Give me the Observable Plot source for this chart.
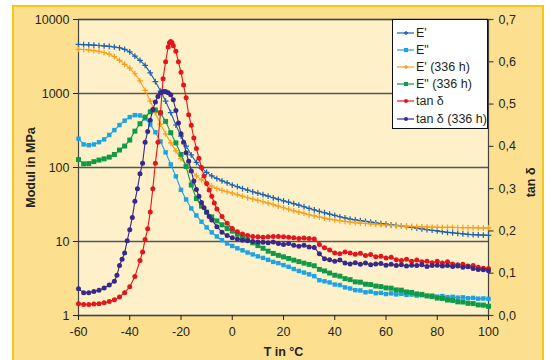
<!DOCTYPE html>
<html><head><meta charset="utf-8">
<script src="https://cdn.jsdelivr.net/npm/d3@7"></script>
<script src="https://cdn.jsdelivr.net/npm/@observablehq/plot@0.6"></script>
<style>
html,body{margin:0;padding:0;width:550px;height:360px;overflow:hidden;background:#fff;}
#panel{position:absolute;left:12px;top:5px;width:528px;height:400px;border:2px solid #F9C80E;background:#FDE08F;}
#chart{position:absolute;left:0;top:0;}
#chart g[aria-label$="axis label"] text, #chart g[aria-label$="axis label"]{font-weight:700;font-size:12.5px;}
#legend{position:absolute;left:392px;top:19px;width:96px;height:110px;background:#fff;border:1px solid #111;
  font:12.5px "Liberation Sans",Arial,sans-serif;color:#231f20;box-sizing:border-box;padding-top:4px;}
.row{height:17.2px;display:flex;align-items:center;white-space:nowrap;}
.row svg{margin-left:4px;margin-right:2px;flex:none;}
</style></head>
<body>
<div id="panel"></div>
<div id="chart"></div>
<div id="legend"></div>
<script>
// Series: [temperature °C, value]
const ePrime = [[-60,4600],[-58,4580],[-56,4550],[-54,4500],[-52,4450],[-50,4400],[-48,4330],[-46,4250],[-44,4150],[-42,3950],[-40,3650],[-38,3200],[-36,2800],[-34,2400],[-32,1900],[-30,1450],[-28,1080],[-26,790],[-24,550],[-22,375],[-20,265],[-18,195],[-16,148],[-14,117],[-12,98],[-10,86],[-8,77],[-6,71],[-4,66],[-2,62],[0,58],[2,55],[4,52],[6,49.5],[8,47],[10,45],[12,43],[14,41],[16,39],[18,37.2],[20,35.5],[22,34],[24,32.5],[26,31],[28,29.5],[30,28],[32,26.8],[34,25.5],[36,24.5],[38,23.5],[40,22.5],[42,21.6],[44,20.8],[46,20.1],[48,19.6],[50,19.2],[52,18.7],[54,18.3],[56,17.9],[58,17.5],[60,17.2],[62,16.8],[64,16.5],[66,16.2],[68,15.9],[70,15.5],[72,15.2],[74,14.8],[76,14.5],[78,14.2],[80,13.9],[82,13.6],[84,13.3],[86,13.1],[88,12.9],[90,12.7],[92,12.5],[94,12.4],[96,12.3],[98,12.2],[100,12.1]];
const eDouble = [[-60,245],[-58,205],[-56,200],[-54,205],[-52,220],[-50,240],[-48,275],[-46,320],[-44,375],[-42,430],[-40,480],[-38,510],[-36,505],[-34,460],[-32,380],[-30,300],[-28,225],[-26,160],[-24,110],[-22,76],[-20,50],[-18,37],[-16,28],[-14,22.5],[-12,18.5],[-10,15.5],[-8,13.3],[-6,11.7],[-4,10.4],[-2,9.4],[0,8.7],[2,8.1],[4,7.6],[6,7.1],[8,6.7],[10,6.3],[12,6],[14,5.65],[16,5.3],[18,5.1],[20,4.8],[22,4.55],[24,4.25],[26,4],[28,3.8],[30,3.6],[32,3.4],[34,3.0],[36,2.9],[38,2.8],[40,2.62],[42,2.58],[44,2.4],[46,2.32],[48,2.2],[50,2.18],[52,2.06],[54,2.1],[56,2.0],[58,2.02],[60,1.95],[62,1.99],[64,1.93],[66,1.96],[68,1.9],[70,1.92],[72,1.86],[74,1.88],[76,1.84],[78,1.86],[80,1.8],[82,1.83],[84,1.77],[86,1.79],[88,1.74],[90,1.76],[92,1.71],[94,1.73],[96,1.69],[98,1.7],[100,1.68]];
const ePrime336 = [[-60,3950],[-58,3930],[-56,3880],[-54,3800],[-52,3700],[-50,3580],[-48,3400],[-46,3150],[-44,2800],[-42,2480],[-40,2200],[-38,1850],[-36,1480],[-34,1100],[-32,790],[-30,550],[-28,385],[-26,285],[-24,215],[-22,168],[-20,132],[-18,108],[-16,90],[-14,77],[-12,68],[-10,61],[-8,56],[-6,52],[-4,49],[-2,47],[0,45],[2,43],[4,41],[6,39],[8,37.5],[10,36],[12,34.5],[14,33],[16,31.5],[18,30],[20,28.6],[22,27.3],[24,26],[26,25],[28,24],[30,23],[32,22.2],[34,21.4],[36,20.7],[38,20.1],[40,19.6],[42,19.1],[44,18.7],[46,18.3],[48,18],[50,17.7],[52,17.5],[54,17.3],[56,17.1],[58,16.9],[60,16.7],[62,16.5],[64,16.4],[66,16.3],[68,16.1],[70,16],[72,15.9],[74,15.8],[76,15.75],[78,15.7],[80,15.6],[82,15.55],[84,15.5],[86,15.5],[88,15.45],[90,15.4],[92,15.4],[94,15.35],[96,15.3],[98,15.3],[100,15.3]];
const eDouble336 = [[-60,128],[-58,112],[-56,113],[-54,120],[-52,126],[-50,131],[-48,138],[-46,150],[-44,172],[-42,195],[-40,235],[-38,310],[-36,390],[-34,480],[-32,565],[-30,600],[-28,545],[-26,420],[-24,295],[-22,215],[-20,150],[-18,103],[-16,58],[-14,38],[-12,30],[-10,25],[-8,21.5],[-6,19],[-4,16.8],[-2,15],[0,13.8],[2,12.6],[4,11.5],[6,10.5],[8,9.6],[10,8.8],[12,8.1],[14,7.4],[16,6.9],[18,6.5],[20,6.2],[22,5.9],[24,5.6],[26,5.35],[28,5.1],[30,4.9],[32,4.7],[34,4.2],[36,4.0],[38,3.75],[40,3.5],[42,3.4],[44,3.15],[46,3.05],[48,2.85],[50,2.82],[52,2.65],[54,2.62],[56,2.5],[58,2.46],[60,2.36],[62,2.34],[64,2.22],[66,2.2],[68,2.08],[70,2.05],[72,1.96],[74,1.93],[76,1.84],[78,1.8],[80,1.72],[82,1.7],[84,1.62],[86,1.6],[88,1.53],[90,1.52],[92,1.46],[94,1.45],[96,1.39],[98,1.38],[100,1.33]];
const tanDelta = [[-60,0.028],[-58,0.026],[-56,0.026],[-54,0.027],[-52,0.028],[-50,0.030],[-48,0.033],[-46,0.037],[-44,0.044],[-42,0.054],[-40,0.068],[-38,0.092],[-36,0.13],[-35,0.15],[-34,0.18],[-33,0.205],[-32,0.245],[-31,0.30],[-30,0.36],[-29,0.41],[-28,0.48],[-27,0.56],[-26,0.60],[-25,0.635],[-24.5,0.645],[-24,0.648],[-23.5,0.645],[-23,0.638],[-22,0.625],[-21,0.60],[-20,0.575],[-19,0.545],[-18,0.515],[-17,0.475],[-16,0.45],[-15,0.42],[-14,0.395],[-13,0.372],[-12,0.35],[-11,0.33],[-10,0.312],[-9,0.297],[-8,0.282],[-7,0.266],[-6,0.252],[-4,0.234],[-2,0.218],[0,0.206],[2,0.198],[4,0.193],[6,0.189],[8,0.187],[10,0.186],[12,0.185],[14,0.186],[16,0.187],[18,0.187],[20,0.186],[22,0.185],[24,0.184],[26,0.182],[28,0.183],[30,0.182],[32,0.181],[34,0.168],[36,0.16],[38,0.155],[40,0.148],[42,0.146],[44,0.150],[46,0.148],[48,0.145],[50,0.147],[52,0.142],[54,0.144],[56,0.139],[58,0.140],[60,0.136],[62,0.138],[64,0.132],[66,0.130],[68,0.133],[70,0.128],[72,0.131],[74,0.127],[76,0.128],[78,0.125],[80,0.128],[82,0.124],[84,0.127],[86,0.122],[88,0.120],[90,0.121],[92,0.117],[94,0.118],[96,0.114],[98,0.112],[100,0.111]];
const tanDelta336 = [[-60,0.063],[-58,0.054],[-56,0.054],[-54,0.057],[-52,0.060],[-50,0.065],[-48,0.072],[-46,0.081],[-45,0.095],[-44,0.118],[-43,0.133],[-42,0.148],[-41,0.177],[-40,0.203],[-39,0.232],[-38,0.27],[-37,0.30],[-36,0.335],[-35,0.36],[-34,0.41],[-33,0.435],[-32,0.462],[-31,0.487],[-30,0.505],[-29,0.518],[-28,0.526],[-27,0.53],[-26,0.53],[-25,0.527],[-24,0.522],[-23,0.51],[-22,0.485],[-21,0.455],[-20,0.43],[-19,0.41],[-18,0.385],[-17,0.365],[-16,0.342],[-15,0.318],[-14,0.298],[-13,0.282],[-12,0.267],[-11,0.255],[-10,0.244],[-9,0.234],[-8,0.226],[-6,0.21],[-4,0.197],[-2,0.189],[0,0.184],[2,0.181],[4,0.178],[6,0.177],[8,0.175],[10,0.174],[12,0.173],[14,0.172],[16,0.174],[18,0.170],[20,0.168],[22,0.170],[24,0.166],[26,0.164],[28,0.166],[30,0.162],[32,0.161],[34,0.146],[36,0.134],[38,0.132],[40,0.128],[42,0.131],[44,0.124],[46,0.122],[48,0.125],[50,0.121],[52,0.124],[54,0.12],[56,0.122],[58,0.123],[60,0.119],[62,0.121],[64,0.118],[66,0.12],[68,0.117],[70,0.119],[72,0.118],[74,0.12],[76,0.116],[78,0.118],[80,0.119],[82,0.117],[84,0.118],[86,0.116],[88,0.117],[90,0.114],[92,0.115],[94,0.111],[96,0.109],[98,0.108],[100,0.106]];

const xTicks = [-60,-40,-20,0,20,40,60,80,100];
const modulTicks = [1,10,100,1000,10000];
const tanTicks = [0,0.1,0.2,0.3,0.4,0.5,0.6,0.7];
const seriesNames = ["E'", "E\"", "E' (336 h)", "E\" (336 h)", "tan δ", "tan δ (336 h)"];
const seriesColors = ["#1b62b0", "#1ba3e6", "#f6a01c", "#0e9a47", "#e3161d", "#36298a"];
const seriesSymbols = ["plus", "square", "plus", "square", "circle", "circle"];

const tanToModul = t => 10 ** (t * 4 / 0.7);

const series = [
  {data: ePrime, y: d => d[1], r: 2.0},
  {data: eDouble, y: d => d[1], r: 2.5},
  {data: ePrime336, y: d => d[1], r: 2.0},
  {data: eDouble336, y: d => d[1], r: 2.8},
  {data: tanDelta, y: d => tanToModul(d[1]), r: 2.5},
  {data: tanDelta336, y: d => tanToModul(d[1]), r: 2.5}
];
const tickMarkSymbol = {draw(ctx) { ctx.moveTo(0, 0); ctx.lineTo(5, 0); }};

const marks = [
  Plot.frame({fill: "#FEF0C8", stroke: null}),
  Plot.gridY(modulTicks, {stroke: "#555", strokeOpacity: 1, strokeWidth: 1.4}),
  Plot.frame({stroke: "#444", strokeWidth: 1.2})
];
series.forEach((s, i) => {
  const c = seriesColors[i];
  const sym = seriesSymbols[i];
  marks.push(Plot.line(s.data, {x: d => d[0], y: s.y, stroke: c, strokeWidth: 1.1}));
  marks.push(sym === "plus"
    ? Plot.dot(s.data, {x: d => d[0], y: s.y, symbol: sym, r: s.r, stroke: c, strokeWidth: 1.2, fill: "none"})
    : Plot.dot(s.data, {x: d => d[0], y: s.y, symbol: sym, r: s.r, fill: c, stroke: "none"}));
});
marks.push(
  Plot.axisX({ticks: xTicks, tickFormat: d => String(d), tickSize: 5, tickPadding: 7,
    label: "T in °C", labelAnchor: "center", labelOffset: 40, labelArrow: false}),
  Plot.axisY({ticks: modulTicks, tickFormat: d => String(d), anchor: "left", tickSize: 5, tickPadding: 4,
    label: "Modul in MPa", labelAnchor: "center", labelOffset: 52, labelArrow: false}),
  // secondary (right) axis for tan δ, positioned through the y scale
  Plot.dot(tanTicks, {y: tanToModul, frameAnchor: "right", symbol: tickMarkSymbol, stroke: "#444", strokeWidth: 1.2, fill: "none"}),
  Plot.text(tanTicks, {y: tanToModul, frameAnchor: "right", dx: 10, textAnchor: "start",
    text: t => t.toFixed(1).replace(".", ","), fill: "#231f20"}),
  Plot.text(["tan δ"], {frameAnchor: "right", dx: 42, rotate: -90, fontWeight: "bold", fill: "#231f20"})
);

const chart = Plot.plot({
  width: 550, height: 360,
  marginLeft: 78, marginRight: 62, marginTop: 19, marginBottom: 45,
  x: {domain: [-60, 100]},
  y: {type: "log", domain: [1, 10000]},
  style: {fontFamily: "'Liberation Sans', Arial, sans-serif", fontSize: "12.5px", color: "#231f20", background: "transparent", overflow: "visible"},
  marks
});
document.getElementById("chart").appendChild(chart);

// Legend
const legend = document.getElementById("legend");
seriesNames.forEach((name, i) => {
  const row = document.createElement("div");
  row.className = "row";
  const c = seriesColors[i];
  const sym = seriesSymbols[i];
  let m;
  if (sym === "square") m = `<rect x="7" y="3" width="4" height="4" fill="${c}"/>`;
  else if (sym === "circle") m = `<circle cx="9" cy="5" r="2" fill="${c}"/>`;
  else m = `<path d="M7,5H11M9,3V7" stroke="${c}" stroke-width="1.3"/>`;
  row.innerHTML = `<svg width="17" height="10"><line x1="0" x2="17" y1="5" y2="5" stroke="${c}" stroke-width="1.2"/>${m}</svg><span>${name}</span>`;
  legend.appendChild(row);
});
</script>
</body></html>
